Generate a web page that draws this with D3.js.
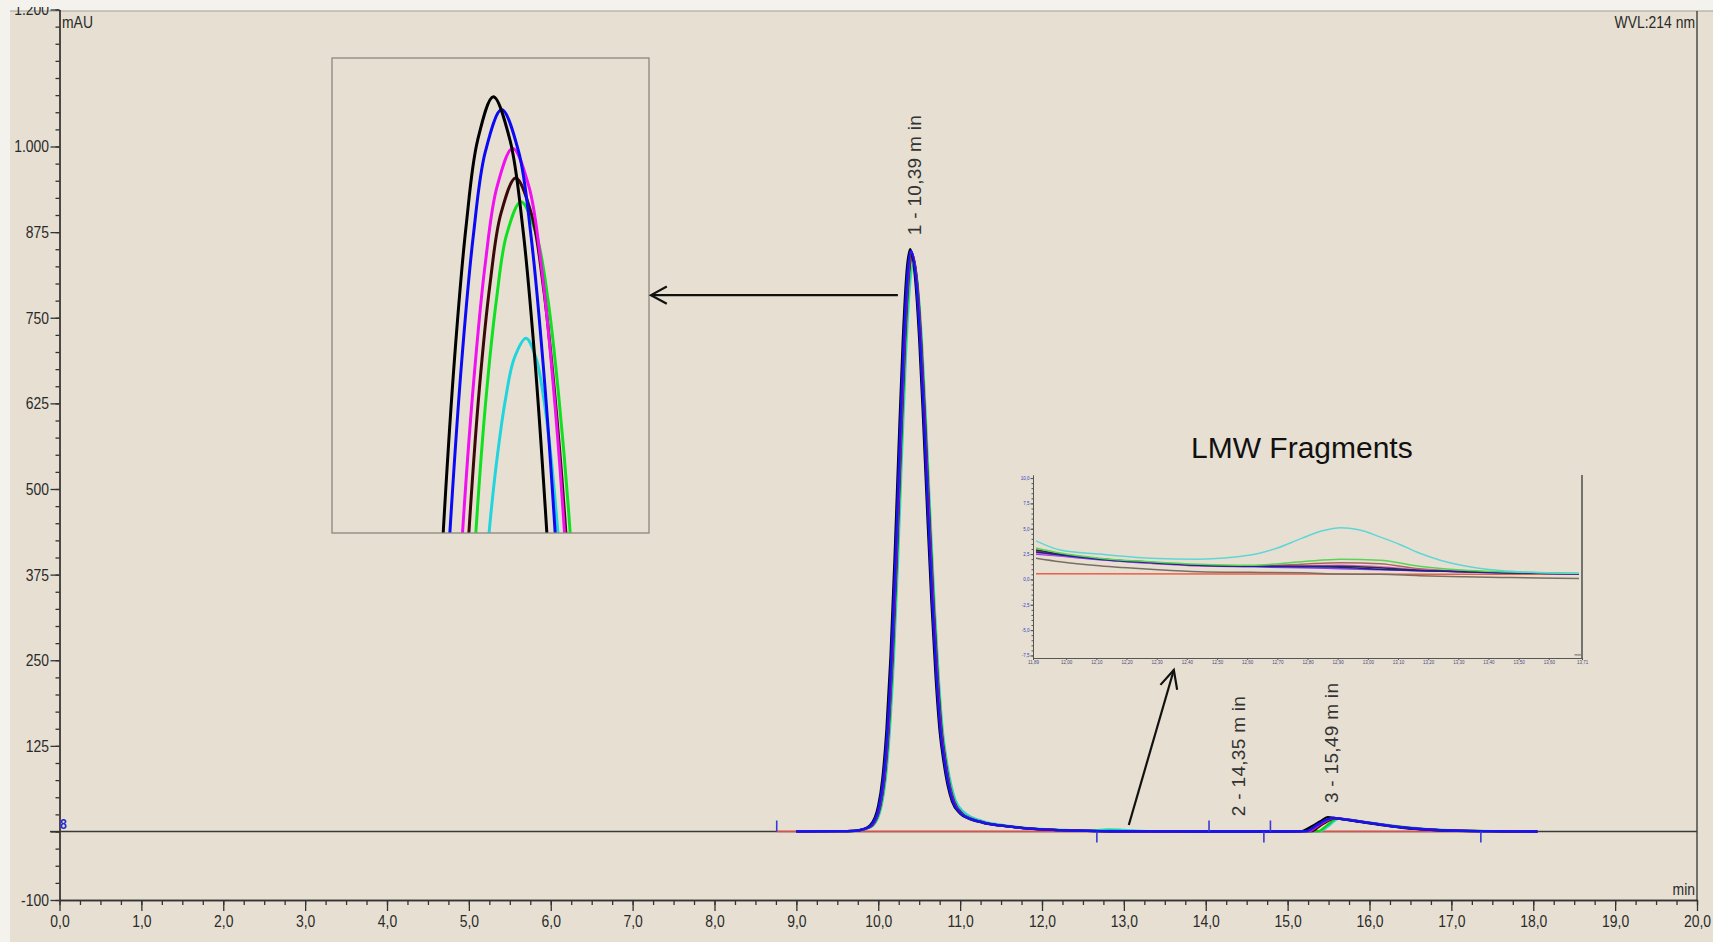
<!DOCTYPE html>
<html><head><meta charset="utf-8">
<script src="https://cdn.jsdelivr.net/npm/d3@7/dist/d3.min.js"></script>
<style>
html,body{margin:0;padding:0;background:#f4f2ed;}
svg{display:block;}
</style></head><body>
<svg id="chart" width="1713" height="942"></svg>
<script>
// ---------------- DATA ----------------
const xTickValues = [0,1,2,3,4,5,6,7,8,9,10,11,12,13,14,15,16,17,18,19,20];
const xTickLabels = ["0,0","1,0","2,0","3,0","4,0","5,0","6,0","7,0","8,0","9,0","10,0","11,0","12,0","13,0","14,0","15,0","16,0","17,0","18,0","19,0","20,0"];
const yTickValues = [-100,0,125,250,375,500,625,750,875,1000,1200];
const yTickLabels = ["-100","","125","250","375","500","625","750","875","1.000","1.200"];

// main chromatograms [time (min), signal (mAU)]
const traceBlack = [[9.00,0.3],[9.50,0.5],[9.70,1.0],[9.80,3],[9.90,9],[10.00,38],[10.05,77],[10.10,148],[10.15,256],[10.20,401],[10.25,565],[10.30,718],[10.35,822],[10.39,850],[10.45,808],[10.50,719],[10.55,596],[10.60,461],[10.65,334],[10.70,227],[10.75,146],[10.80,100],[10.85,66],[10.90,44],[11.00,26],[11.10,19],[11.20,15],[11.30,12],[11.40,10],[11.60,7],[11.80,4.5],[12.00,3],[12.20,2],[12.40,1.2],[12.70,0.5],[13.00,0.3],[14.00,0],[15.00,0],[15.17,0.5],[15.30,8],[15.40,15],[15.49,21],[15.60,19],[15.80,15.5],[16.00,12],[16.20,8.5],[16.40,5.5],[16.60,3.5],[16.80,2.2],[17.00,1.4],[17.40,0.6],[17.80,0.2],[18.05,0]];
const traceBlue = [[9.00,0.3],[9.50,0.5],[9.71,1.0],[9.81,3],[9.91,9],[10.01,38],[10.06,77],[10.11,148],[10.16,255],[10.21,400],[10.26,564],[10.31,716],[10.36,820],[10.40,848],[10.46,806],[10.51,718],[10.56,595],[10.61,460],[10.66,333],[10.71,227],[10.76,146],[10.81,100],[10.86,66],[10.91,44],[11.01,26],[11.11,19],[11.21,15],[11.31,12],[11.41,10],[11.61,7],[11.81,4.5],[12.01,3],[12.21,2],[12.41,1.2],[12.71,0.5],[13.00,0.3],[14.00,0],[15.00,0],[15.22,0.5],[15.35,9],[15.45,16],[15.55,20],[15.65,18.5],[15.85,15],[16.05,11.5],[16.25,8],[16.45,5.2],[16.65,3.3],[16.85,2.1],[17.05,1.3],[17.45,0.5],[17.85,0.2],[18.05,0]];
const tracePurple = [[9.00,0.4],[9.50,0.6],[9.72,1.0],[9.82,3],[9.92,9],[10.02,37],[10.07,76],[10.12,147],[10.17,255],[10.22,399],[10.27,562],[10.32,715],[10.37,818],[10.405,846],[10.465,805],[10.515,716],[10.565,594],[10.615,459],[10.665,333],[10.715,226],[10.765,146],[10.815,100],[10.865,66],[10.915,44],[11.015,26],[11.115,19],[11.215,15],[11.315,12],[11.415,10],[11.615,7],[11.815,4.5],[12.015,3],[12.215,2],[12.415,1.2],[12.715,0.5],[13.00,0.3],[14.00,0],[15.00,0],[15.24,0.5],[15.37,9],[15.47,16],[15.56,20],[15.66,18.5],[15.86,15],[16.06,11.5],[16.26,8],[16.46,5.2],[16.66,3.3],[16.86,2.1],[17.06,1.3],[17.46,0.5],[17.86,0.2],[18.05,0]];
const traceMagenta = [[9.00,0.3],[9.50,0.5],[9.72,1.0],[9.82,3],[9.92,9],[10.02,38],[10.07,76],[10.12,147],[10.17,254],[10.22,399],[10.27,562],[10.32,714],[10.37,817],[10.41,845],[10.47,803],[10.52,715],[10.57,592],[10.62,458],[10.67,332],[10.72,226],[10.77,145],[10.82,99],[10.87,66],[10.92,44],[11.02,26],[11.12,19],[11.22,15],[11.32,12],[11.42,10],[11.62,7],[11.82,4.5],[12.02,3],[12.22,2],[12.42,1.2],[12.72,0.5],[13.00,0.3],[14.00,0],[15.00,0],[15.27,0.5],[15.38,9],[15.47,15.5],[15.57,20],[15.67,18.5],[15.87,15],[16.07,11.5],[16.27,8],[16.47,5.3],[16.67,3.3],[16.87,2.1],[17.07,1.3],[17.47,0.5],[17.87,0.2],[18.05,0]];
const traceBrown = [[9.00,0.3],[9.50,0.5],[9.725,1.0],[9.825,3],[9.925,9],[10.025,38],[10.075,76],[10.125,147],[10.175,254],[10.225,397],[10.275,560],[10.325,712],[10.375,815],[10.415,842],[10.475,801],[10.525,713],[10.575,591],[10.625,457],[10.675,331],[10.725,225],[10.775,145],[10.825,99],[10.875,65],[10.925,44],[11.025,26],[11.125,19],[11.225,15],[11.325,12],[11.425,10],[11.625,7],[11.825,4.5],[12.025,3],[12.225,2],[12.425,1.2],[12.725,0.5],[13.00,0.3],[14.00,0],[15.00,0],[15.30,0.5],[15.40,8.5],[15.49,15],[15.58,19.5],[15.68,18],[15.88,14.5],[16.08,11],[16.28,7.8],[16.48,5.1],[16.68,3.2],[16.88,2],[17.08,1.3],[17.48,0.5],[17.88,0.2],[18.05,0]];
const traceGreen = [[9.00,0.3],[9.50,0.5],[9.73,1.0],[9.83,3],[9.93,9],[10.03,37],[10.08,76],[10.13,146],[10.18,253],[10.23,396],[10.28,558],[10.33,709],[10.38,812],[10.42,840],[10.48,798],[10.53,710],[10.58,589],[10.63,455],[10.68,330],[10.73,224],[10.78,144],[10.83,99],[10.88,66],[10.93,44],[11.03,26],[11.13,19],[11.23,15],[11.33,12],[11.43,10],[11.63,7],[11.83,4.5],[12.03,3],[12.23,2],[12.43,1.3],[12.73,0.8],[12.85,1.2],[13.00,0.6],[14.00,0],[15.00,0],[15.38,0.5],[15.48,9],[15.60,19],[15.70,18],[15.90,14.5],[16.10,11],[16.30,7.8],[16.50,5.1],[16.70,3.2],[16.90,2],[17.10,1.3],[17.50,0.5],[17.90,0.2],[18.05,0]];
const traceCyan = [[9.00,0.3],[9.50,0.5],[9.74,1.0],[9.84,3],[9.94,9],[10.04,37],[10.09,75],[10.14,144],[10.19,250],[10.24,391],[10.29,551],[10.34,700],[10.39,801],[10.43,828],[10.49,788],[10.54,702],[10.59,582],[10.64,451],[10.69,327],[10.74,223],[10.79,145],[10.84,101],[10.89,69],[10.94,47],[11.04,29],[11.14,21],[11.24,16.5],[11.34,13],[11.44,11],[11.64,7.5],[11.84,5],[12.04,3.5],[12.24,2.5],[12.44,1.8],[12.64,1.8],[12.80,3],[12.95,2.8],[13.10,1.5],[13.30,0.6],[14.00,0],[15.00,0],[15.40,0.5],[15.50,8],[15.62,18.5],[15.72,17.5],[15.92,14.5],[16.12,11.2],[16.32,8.2],[16.52,5.5],[16.72,3.5],[16.92,2.2],[17.12,1.4],[17.52,0.6],[17.92,0.2],[18.05,0]];
const signalZero = [[0,0],[20,0]];
const baselineSegments = [[[8.76,0],[12.67,0]],[[15.20,0],[17.36,0]]];
const markUp = [8.76,14.04,14.79];
const markDown = [12.67,14.71,17.36];

// peaks
const peakNumbers = [1,2,3];
const peakTimes = [10.39,14.35,15.49];
const peakHeights = [850,2,21];

// zoomed peak apex (inset) [time, mAU]
const apexBlack = [[10.3360,780],[10.3405,790.4],[10.3548,816.0],[10.3691,835.1],[10.3838,847.9],[10.4036,854.3],[10.4246,847.9],[10.4406,835.1],[10.4557,816.0],[10.4709,790.4],[10.4760,780]];
const apexBlue = [[10.3439,780],[10.3489,790.4],[10.3636,815.2],[10.3783,833.8],[10.3935,846.2],[10.4141,852.4],[10.4355,846.2],[10.4511,833.8],[10.4662,815.2],[10.4814,790.4],[10.4864,780]];
const apexMagenta = [[10.3599,780],[10.3649,790.4],[10.3792,812.9],[10.3935,829.8],[10.4082,841.0],[10.4280,846.7],[10.4486,841.0],[10.4637,829.8],[10.4784,812.9],[10.4932,790.4],[10.4982,780]];
const apexBrown = [[10.3679,780],[10.3729,790.4],[10.3859,811.2],[10.3994,826.7],[10.4132,837.1],[10.4318,842.3],[10.4515,837.1],[10.4662,826.7],[10.4805,811.2],[10.4949,790.4],[10.4999,780]];
const apexGreen = [[10.3767,780],[10.3817,790.4],[10.3943,809.8],[10.4074,824.3],[10.4204,834.0],[10.4385,838.8],[10.4578,834.0],[10.4726,824.3],[10.4864,809.8],[10.5003,790.4],[10.5053,780]];
const apexCyan = [[10.3915,780],[10.3985,790.4],[10.4090,801.7],[10.4196,810.2],[10.4301,815.8],[10.4448,818.7],[10.4574,815.8],[10.4667,810.2],[10.4759,801.7],[10.4848,790.4],[10.4918,780]];

// LMW fragments inset [time, mAU]
const lmwCyan = [[11.90,3.8],[11.98,2.9],[12.11,2.5],[12.28,2.1],[12.44,2.0],[12.61,2.4],[12.70,3.1],[12.78,4.05],[12.85,4.8],[12.91,5.1],[12.97,4.9],[13.04,4.2],[13.11,3.4],[13.17,2.6],[13.24,1.9],[13.31,1.4],[13.44,0.87],[13.57,0.68],[13.70,0.6]];
const lmwGreen = [[11.90,3.1],[11.98,2.6],[12.11,2.1],[12.28,1.75],[12.44,1.5],[12.61,1.4],[12.78,1.75],[12.91,2.0],[13.04,1.9],[13.17,1.3],[13.31,0.93],[13.44,0.76],[13.57,0.66],[13.70,0.6]];
const lmwNavy = [[11.90,2.7],[11.98,2.4],[12.11,2.0],[12.28,1.65],[12.44,1.4],[12.61,1.3],[12.78,1.25],[12.91,1.2],[13.04,1.0],[13.17,0.86],[13.31,0.76],[13.44,0.66],[13.57,0.6],[13.70,0.56]];
const lmwBlack = [[11.90,2.9],[11.98,2.5],[12.11,2.05],[12.28,1.7],[12.44,1.4],[12.61,1.3],[12.78,1.3],[12.91,1.3],[13.04,1.15],[13.17,0.9],[13.31,0.78],[13.44,0.68],[13.57,0.6],[13.70,0.55]];
const lmwPurple = [[11.90,2.5],[11.98,2.3],[12.11,1.95],[12.28,1.6],[12.44,1.35],[12.61,1.25],[12.78,1.15],[12.91,1.05],[13.04,0.95],[13.17,0.85],[13.31,0.75],[13.44,0.66],[13.57,0.6],[13.70,0.55]];
const lmwMagenta = [[11.90,2.6],[11.98,2.35],[12.11,2.0],[12.28,1.6],[12.44,1.35],[12.61,1.3],[12.78,1.35],[12.91,1.4],[13.04,1.25],[13.17,0.95],[13.31,0.8],[13.44,0.68],[13.57,0.6],[13.70,0.55]];
const lmwSienna = [[11.90,2.8],[11.98,2.45],[12.11,2.0],[12.28,1.65],[12.44,1.4],[12.61,1.3],[12.78,1.5],[12.91,1.65],[13.04,1.55],[13.17,1.05],[13.31,0.8],[13.44,0.66],[13.57,0.55],[13.70,0.5]];
const lmwTaupe = [[11.90,2.1],[11.98,1.75],[12.11,1.35],[12.28,1.0],[12.44,0.76],[12.61,0.7],[12.78,0.66],[12.91,0.53],[13.04,0.5],[13.17,0.37],[13.31,0.27],[13.44,0.2],[13.57,0.15],[13.70,0.1]];
const lmwRed = [[11.90,0.55],[12.60,0.53],[13.20,0.5],[13.70,0.5]];
const lmwYTicks = [-7.5,-5,-2.5,0,2.5,5,7.5,10];
const lmwYLabels = ["-7,5","-5,0","-2,5","0,0","2,5","5,0","7,5","10,0"];
const lmwXTicks = [11.89,12.00,12.10,12.20,12.30,12.40,12.50,12.60,12.70,12.80,12.90,13.00,13.10,13.20,13.30,13.40,13.50,13.60,13.71];

// ---------------- DRAWING ----------------
const SANS = "'Liberation Sans',Arial,sans-serif";
const CONDENSE = 0.82;   // the software uses a narrow face: condense regular Arial
const svg = d3.select('#chart');
const defs = svg.append('defs');

svg.append('rect').attr('width',1713).attr('height',942).attr('fill','#f4f2ed');
svg.append('rect').attr('x',10).attr('y',11).attr('width',1703).attr('height',931).attr('fill','#e7e0d2');
svg.append('line').attr('x1',10).attr('x2',1713).attr('y1',11).attr('y2',11).attr('stroke','#a29e96').attr('stroke-width',1);

const x = d3.scaleLinear().domain([0,20]).range([59.5,1697]);
const y = d3.scaleLinear().domain([-100,1200]).range([900,9.5]);

defs.append('clipPath').attr('id','plotClip').append('rect')
  .attr('x',x(0)).attr('y',0).attr('width',x(20)-x(0)).attr('height',900);

function styleAxis(g,color,w){
  g.select('.domain').attr('stroke',color).attr('stroke-width',w);
  g.selectAll('.tick line').attr('stroke',color).attr('stroke-width',w);
}
function narrowText(parent,tx,ty,str,anchor){
  return parent.append('text').attr('transform',`translate(${tx},${ty}) scale(${CONDENSE},1)`)
    .attr('text-anchor',anchor||'start').attr('font-family',SANS).attr('font-size',17)
    .attr('fill','#2a2a2a').text(str);
}

// y axis
const yMinor = svg.append('g').attr('transform',`translate(${x(0)},0)`)
  .call(d3.axisLeft(y).tickValues(d3.range(-100,1201,25)).tickSize(4).tickFormat('').tickSizeOuter(0));
styleAxis(yMinor,'#333',1.3);
const yMajor = svg.append('g').attr('transform',`translate(${x(0)},0)`)
  .call(d3.axisLeft(y).tickValues(yTickValues).tickSize(9).tickPadding(1).tickSizeOuter(0)
    .tickFormat((d,i)=>yTickLabels[i]));
styleAxis(yMajor,'#333',1.3);
yMajor.attr('font-family',SANS).attr('font-size',17);
yMajor.selectAll('text').attr('fill','#2a2a2a').attr('x',-10.5/CONDENSE).attr('transform',`scale(${CONDENSE},1)`);

// x axis
const xMinor = svg.append('g').attr('transform',`translate(0,${y(-100)})`)
  .call(d3.axisBottom(x).tickValues(d3.range(0,20.01,0.25)).tickSize(5).tickFormat('').tickSizeOuter(0));
styleAxis(xMinor,'#333',1.3);
const xMajor = svg.append('g').attr('transform',`translate(0,${y(-100)})`)
  .call(d3.axisBottom(x).tickValues(xTickValues).tickSize(11).tickPadding(4).tickSizeOuter(0)
    .tickFormat((d,i)=>xTickLabels[i]));
styleAxis(xMajor,'#333',1.3);
xMajor.attr('font-family',SANS).attr('font-size',17);
xMajor.selectAll('text').attr('fill','#2a2a2a').attr('transform',`scale(${CONDENSE},1)`);

// cut the top label like the reference
svg.append('rect').attr('x',0).attr('y',0).attr('width',58).attr('height',7).attr('fill','#f4f2ed');

// right border
svg.append('line').attr('x1',x(20)).attr('x2',x(20)).attr('y1',11).attr('y2',y(-100))
  .attr('stroke','#333').attr('stroke-width',1.3);

const plot = svg.append('g').attr('clip-path','url(#plotClip)');
const line = d3.line().x(d=>x(d[0])).y(d=>y(d[1])).curve(d3.curveMonotoneX);

plot.append('path').datum(signalZero).attr('d',line).attr('fill','none')
  .attr('stroke','#3a3a3a').attr('stroke-width',1.6);
svg.append('line').attr('x1',50).attr('x2',x(0)).attr('y1',y(0)).attr('y2',y(0)).attr('stroke','#333').attr('stroke-width',1.3);

baselineSegments.forEach(s=>{
  plot.append('path').datum(s).attr('d',line).attr('fill','none').attr('stroke','#e0504a').attr('stroke-width',1.6);
});

const mainTraces = [traceCyan,traceGreen,traceBrown,traceMagenta,traceBlack,tracePurple,traceBlue];
const mainColors = ['#2ed3d3','#10d010','#3c0808','#e010e0','#000000','#6a20c8','#1414f0'];
mainTraces.forEach((tr,i)=>{
  plot.append('path').datum(tr).attr('d',line).attr('fill','none')
    .attr('stroke',mainColors[i]).attr('stroke-width',2.3).attr('stroke-linejoin','round');
});

// integration markers
markUp.forEach(t=>{
  plot.append('line').attr('x1',x(t)).attr('x2',x(t)).attr('y1',y(0)).attr('y2',y(0)-11)
    .attr('stroke','#3a3ad8').attr('stroke-width',1.6);
});
markDown.forEach(t=>{
  plot.append('line').attr('x1',x(t)).attr('x2',x(t)).attr('y1',y(0)).attr('y2',y(0)+11)
    .attr('stroke','#3a3ad8').attr('stroke-width',1.6);
});
// small blue peak-table marker at start
svg.append('text').attr('transform',`translate(${x(0)+0.5},${y(0)-3}) scale(${CONDENSE},1)`)
  .attr('font-family',SANS).attr('font-size',15).attr('font-weight','bold').attr('fill','#2a2ad0').text('8');

// peak labels
peakNumbers.forEach((n,i)=>{
  const t = peakTimes[i];
  svg.append('text')
    .attr('transform',`translate(${x(t)+4},${y(peakHeights[i])-14}) rotate(-90)`)
    .attr('dominant-baseline','central')
    .attr('font-family',SANS).attr('font-size',19).attr('letter-spacing',0.3).attr('fill','#333')
    .text(`${n} - ${t.toFixed(2).replace('.',',')} m in`);
});

// header labels
narrowText(svg, x(0)+2.5, 28, 'mAU');
narrowText(svg, 1695, 28, 'WVL:214 nm', 'end');
narrowText(svg, 1695, 895, 'min', 'end');

// ---------- apex inset (left) ----------
const ax = d3.scaleLinear().domain([10.20,10.60]).range([332,649]);
const ay = d3.scaleLinear().domain([790,860]).range([533,58]);
defs.append('clipPath').attr('id','apexClip').append('rect')
  .attr('x',332).attr('y',58).attr('width',317).attr('height',475);
const apexG = svg.append('g').attr('clip-path','url(#apexClip)');
const apexLine = d3.line().x(d=>ax(d[0])).y(d=>ay(d[1])).curve(d3.curveCatmullRom.alpha(0.5));
const apexTraces = [apexCyan,apexGreen,apexBrown,apexMagenta,apexBlue,apexBlack];
const apexColors = ['#22d4dc','#10e020','#3a0a0a','#f010f0','#0a0af5','#000000'];
apexTraces.forEach((tr,i)=>{
  apexG.append('path').datum(tr).attr('d',apexLine).attr('fill','none')
    .attr('stroke',apexColors[i]).attr('stroke-width',3);
});
svg.append('rect').attr('x',332).attr('y',58).attr('width',317).attr('height',475)
  .attr('fill','none').attr('stroke','#8a8780').attr('stroke-width',1.3);

// arrows
function arrow(x1,y1,x2,y2,len,ang){
  svg.append('line').attr('x1',x1).attr('y1',y1).attr('x2',x2).attr('y2',y2)
    .attr('stroke','#111').attr('stroke-width',2.2);
  const a = Math.atan2(y1-y2,x1-x2);
  const p1=[x2+len*Math.cos(a+ang),y2+len*Math.sin(a+ang)];
  const p2=[x2+len*Math.cos(a-ang),y2+len*Math.sin(a-ang)];
  svg.append('path').attr('d',`M${p1[0]},${p1[1]}L${x2},${y2}L${p2[0]},${p2[1]}`)
    .attr('fill','none').attr('stroke','#111').attr('stroke-width',2.2);
}
arrow(x(10.24),y(783),651,y(783),18,0.5);
arrow(x(13.06),y(9.5),x(13.61),670,20,0.45);

// ---------- LMW inset ----------
const lx = d3.scaleLinear().domain([11.89,13.71]).range([1033,1582]);
const ly = d3.scaleLinear().domain([-7.75,10.3]).range([658,475]);
svg.append('text').attr('x',1191).attr('y',458).attr('font-family',SANS).attr('font-size',30)
  .attr('fill','#111').text('LMW Fragments');
const lyMinor = svg.append('g').attr('transform','translate(1033,0)')
  .call(d3.axisLeft(ly).tickValues(d3.range(-7.5,10.01,0.5)).tickSize(1.5).tickFormat('').tickSizeOuter(0));
styleAxis(lyMinor,'#555',1);
const lyMajor = svg.append('g').attr('transform','translate(1033,0)')
  .call(d3.axisLeft(ly).tickValues(lmwYTicks).tickSize(2.5).tickPadding(1).tickSizeOuter(0)
    .tickFormat((d,i)=>lmwYLabels[i]));
styleAxis(lyMajor,'#555',1);
lyMajor.attr('font-family',SANS).attr('font-size',4.5);
lyMajor.selectAll('text').attr('fill','#3838c8');
const lxAxis = svg.append('g').attr('transform','translate(0,658)')
  .call(d3.axisBottom(lx).tickValues(lmwXTicks).tickSize(2).tickPadding(1).tickSizeOuter(0)
    .tickFormat(d=>d.toFixed(2).replace('.',',')));
styleAxis(lxAxis,'#555',1);
lxAxis.attr('font-family',SANS).attr('font-size',4.5);
lxAxis.selectAll('text').attr('fill','#4a4a7a');
svg.append('line').attr('x1',1582).attr('x2',1582).attr('y1',475).attr('y2',658)
  .attr('stroke','#444').attr('stroke-width',1.4);
svg.append('text').attr('x',1581).attr('y',656).attr('text-anchor','end').attr('font-family',SANS)
  .attr('font-size',4).attr('fill','#444').text('min');

const lmwLine = d3.line().x(d=>lx(d[0])).y(d=>ly(d[1])).curve(d3.curveMonotoneX);
const lmwTraces = [lmwRed,lmwTaupe,lmwSienna,lmwPurple,lmwMagenta,lmwBlack,lmwNavy,lmwGreen,lmwCyan];
const lmwColors = ['#e8604a','#7a6e64','#a86a58','#8a40e8','#e060e0','#303030','#202090','#58d458','#5fd6d6'];
lmwTraces.forEach((tr,i)=>{
  svg.append('path').datum(tr).attr('d',lmwLine).attr('fill','none')
    .attr('stroke',lmwColors[i]).attr('stroke-width',1.5);
});
</script></body></html>
